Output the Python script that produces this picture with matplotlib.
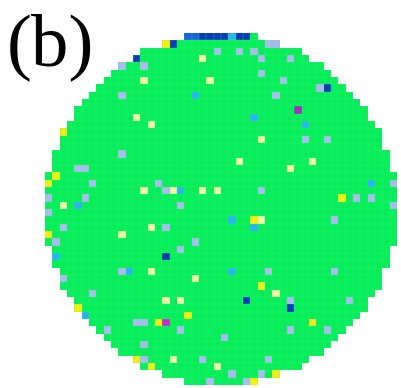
import numpy as np
import matplotlib
matplotlib.use("Agg")
import matplotlib.pyplot as plt
from matplotlib.colors import ListedColormap, BoundaryNorm

# wafer grid
n_dies = 48
wafer_radius = 24.0

# bin codes: 0 pass (green), 1 lavender, 2 light yellow, 3 yellow,
# 4 cyan, 5 dark blue, 6 purple, 7 magenta, 8 medium blue
bin_colors = ["#06EE5A", "#A9BCF0", "#F0F6A6", "#F2EE10", "#28B4F0",
              "#0A3CB8", "#9438B4", "#C42CC8", "#1A64E0"]

defect_cols = [16, 17, 12, 10, 13, 13, 20, 10, 12, 14, 2, 10, 4, 5, 1, 0, 6, 15,
               13, 16, 17, 18, 0, 2, 4, 5, 18, 0, 2, 14, 16, 10, 0, 1, 18, 20,
               16, 1, 10, 11, 14, 2, 20, 6, 16, 18, 4, 19, 5, 12, 13, 15, 16,
               18, 8, 13, 17, 12, 13, 14,
               19, 20, 21, 22, 23, 24, 25, 26, 27, 30, 31, 23, 26, 28, 21, 29,
               33, 22, 29, 32, 37, 38, 31, 34, 28, 35, 29, 35, 38, 26, 33, 36,
               46, 47, 44, 47, 21, 23, 29, 40, 42, 44,
               47, 25, 28, 29, 28, 39, 25, 30, 39, 47, 29, 31, 27, 33, 33, 41,
               36, 42, 33, 38, 24, 21, 23, 30, 25, 29, 31, 22, 27, 28]
defect_rows = [1, 1, 3, 4, 4, 6, 8, 8, 11, 12, 13, 16, 18, 18, 19, 20, 20, 20,
               21, 21, 21, 21, 22, 23, 23, 22, 23, 24, 26, 26, 26, 27, 27, 28, 29, 28,
               30, 30, 32, 32, 32, 33, 33, 35, 36, 36, 37, 38, 38, 39, 39, 39, 39,
               40, 40, 42, 44, 44, 44, 45,
               0, 0, 0, 0, 0, 0, 0, 0, 0, 1, 1, 2, 2, 2, 3, 3,
               3, 6, 5, 6, 7, 7, 8, 10, 11, 12, 14, 14, 14, 17, 18, 17,
               15, 16, 20, 20, 21, 21, 21, 22, 22, 22,
               23, 25, 25, 25, 26, 25, 32, 32, 32, 30, 34, 35, 36, 36, 37, 36,
               39, 39, 40, 40, 41, 44, 45, 44, 46, 46, 46, 47, 47, 47]
defect_bins = [3, 5, 5, 1, 1, 2, 4, 1, 2, 2, 3, 1, 1, 1, 3, 3, 1, 1,
               2, 1, 2, 4, 1, 2, 4, 1, 1, 1, 1, 2, 1, 2, 3, 1, 1, 1,
               5, 4, 1, 4, 2, 1, 2, 1, 2, 2, 3, 3, 4, 1, 1, 3, 7,
               1, 1, 1, 2, 3, 1, 3,
               8, 8, 5, 5, 5, 5, 4, 5, 5, 1, 1, 1, 1, 1, 2, 1,
               1, 2, 1, 1, 1, 5, 1, 6, 4, 4, 2, 1, 1, 2, 2, 2,
               1, 4, 4, 1, 2, 2, 1, 3, 1, 1,
               1, 4, 3, 2, 4, 1, 4, 1, 1, 4, 3, 2, 5, 1, 5, 1,
               3, 4, 1, 1, 1, 1, 2, 1, 1, 1, 3, 1, 1, 3]

# build die map
cc, rr = np.meshgrid(np.arange(n_dies), np.arange(n_dies))
center = n_dies / 2.0
inside = (cc + 0.5 - center) ** 2 + (rr + 0.5 - center) ** 2 <= wafer_radius ** 2
die_map = np.zeros((n_dies, n_dies), dtype=float)
for c, r, b in zip(defect_cols, defect_rows, defect_bins):
    die_map[r, c] = b
die_map = np.ma.masked_where(~inside, die_map)

cmap = ListedColormap(bin_colors)
norm = BoundaryNorm(np.arange(-0.5, len(bin_colors) + 0.5), cmap.N)

fig = plt.figure(figsize=(4.02, 3.88), dpi=100)
ax = fig.add_axes([45 / 402, 3 / 388, 352 / 402, 352 / 388])
ax.imshow(die_map, cmap=cmap, norm=norm, extent=(0, n_dies, n_dies, 0),
          interpolation="nearest", aspect="auto")
# faint die grid
for k in range(1, n_dies):
    ax.axvline(k, color="#40F080", lw=0.35, alpha=0.6)
    ax.axhline(k, color="#40F080", lw=0.35, alpha=0.6)
# hide grid lines outside wafer
outside = np.ma.masked_where(inside, np.ones((n_dies, n_dies)))
ax.imshow(outside, cmap=ListedColormap(["white"]), extent=(0, n_dies, n_dies, 0),
          interpolation="nearest", aspect="auto", zorder=3)
ax.set_xlim(0, n_dies)
ax.set_ylim(n_dies, 0)
ax.axis("off")

fig.text(7 / 402, 1 - 47 / 388, "(b)", fontsize=54, family="Liberation Serif",
         va="center", ha="left")

fig.savefig("out.png", dpi=100, facecolor="white")
